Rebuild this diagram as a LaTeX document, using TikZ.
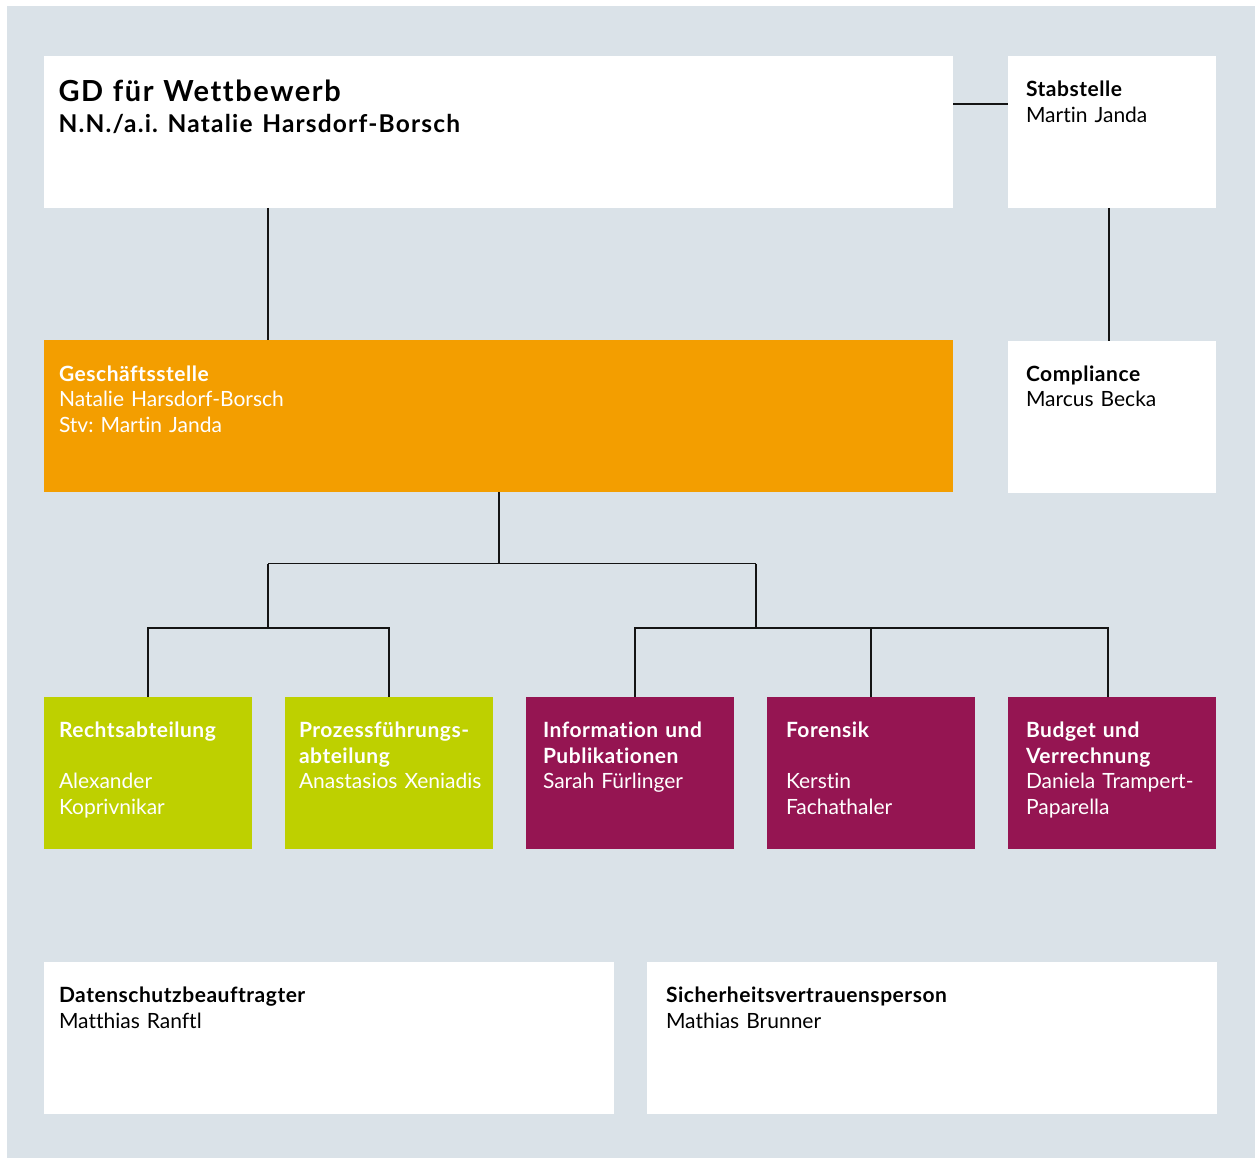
\documentclass[tikz,border=0pt]{standalone}
\usepackage{fontspec}
\setmainfont{Lato}[Ligatures=NoCommon]
\usetikzlibrary{calc}
\definecolor{bgc}{RGB}{218,226,232}
\definecolor{orng}{RGB}{243,158,0}
\definecolor{lime}{RGB}{190,208,0}
\definecolor{purp}{RGB}{149,21,82}
\definecolor{linec}{RGB}{20,20,20}
\newcommand{\hd}[1]{{\bfseries\addfontfeatures{LetterSpace=2.5}#1}}
\begin{document}
\frenchspacing
\begin{tikzpicture}[x=1pt,y=-1pt,
  box/.style={anchor=north west, inner sep=0, outer sep=0, minimum width=#1, minimum height=152pt},
  wbox/.style={box=#1, fill=white},
  obox/.style={box=#1, fill=orng},
  lbox/.style={box=#1, fill=lime},
  pbox/.style={box=#1, fill=purp},
  txt/.style={anchor=base west, inner sep=0, outer sep=0, align=left, text width=520pt,
              font=\fontsize{21}{25.6}\selectfont\frenchspacing},
  wtxt/.style={txt, text=white},
  conn/.style={draw=linec, line width=1.3pt}]
\useasboundingbox (0,0) rectangle (1255,1158);
\fill[bgc] (7,6) rectangle (1255,1158);
% boxes
\node[wbox=909pt] (gd) at (44,56) {};
\node[wbox=208pt] (stab) at (1008,56) {};
\node[obox=909pt] (gs) at (44,340) {};
\node[wbox=208pt] (comp) at (1008,341) {};
\node[lbox=208pt] (rech) at (44,697) {};
\node[lbox=208pt] (proz) at (285,697) {};
\node[pbox=208pt] (info) at (526,697) {};
\node[pbox=208pt] (fore) at (767,697) {};
\node[pbox=208pt] (budg) at (1008,697) {};
\node[wbox=570pt] (dsch) at (44,962) {};
\node[wbox=570pt] (sich) at (647,962) {};
% texts
\node[txt, font=\fontsize{29}{31}\selectfont\frenchspacing] (gdT) at (58.5,101.5)
  {{\bfseries\addfontfeatures{LetterSpace=5.5}GD für Wettbewerb}\\\fontsize{24.5}{31}\selectfont{\bfseries\addfontfeatures{LetterSpace=4.8}N.N./a.i. Natalie Harsdorf-Borsch}};
\node[txt] (stabT) at (1026,96.7) {\hd{Stabstelle}\\Martin Janda};
\node[wtxt] (gsT) at (59,381) {\hd{Geschäftsstelle}\\Natalie Harsdorf-Borsch\\Stv: Martin Janda};
\node[txt] (compT) at (1026,381) {\hd{Compliance}\\Marcus Becka};
\node[wtxt] (rechT) at (59,737.7) {\hd{Rechtsabteilung}\\[25.6pt]Alexander\\Koprivnikar};
\node[wtxt] (prozT) at (299,737.7) {\hd{Prozessführungs-}\\\hd{abteilung}\\Anastasios Xeniadis};
\node[wtxt] (infoT) at (543,737.7) {\hd{Information und}\\\hd{Publikationen}\\Sarah Fürlinger};
\node[wtxt] (foreT) at (786,737.7) {\hd{Forensik}\\[25.6pt]Kerstin\\Fachathaler};
\node[wtxt] (budgT) at (1026,737.7) {\hd{Budget und}\\\hd{Verrechnung}\\Daniela Trampert-\\Paparella};
\node[txt] (dschT) at (59,1002.5) {\hd{Datenschutzbeauftragter}\\Matthias Ranftl};
\node[txt] (sichT) at (666,1002.5) {\hd{Sicherheitsvertrauensperson}\\Mathias Brunner};
% connectors
\coordinate (jL) at (268,563.5);
\coordinate (jR) at (756,563.5);
\coordinate (jLL) at (268,628);
\coordinate (jRR) at (756,628);
\draw[conn] ([yshift=-48pt]gd.north east) -- ([yshift=-48pt]stab.north west);
\draw[conn] ([xshift=224pt]gd.south west) -- ([xshift=224pt]gs.north west);
\draw[conn] ([xshift=-3pt]stab.south) -- ([xshift=-3pt]comp.north);
\draw[conn] ([xshift=455pt]gs.south west) -- ([xshift=455pt]gs.south west |- jL);
\draw[conn] (jL) -- (jR);
\draw[conn] (jL) -- (jLL);
\draw[conn] (jR) -- (jRR);
\draw[conn] (rech.north) -- (rech.north |- jLL) -- (proz.north |- jLL) -- (proz.north);
\draw[conn] ([xshift=5pt]info.north) -- ([xshift=5pt]info.north |- jRR) -- ([xshift=-4pt]budg.north |- jRR) -- ([xshift=-4pt]budg.north);
\draw[conn] (fore.north) -- (fore.north |- jRR);
\end{tikzpicture}
\end{document}
